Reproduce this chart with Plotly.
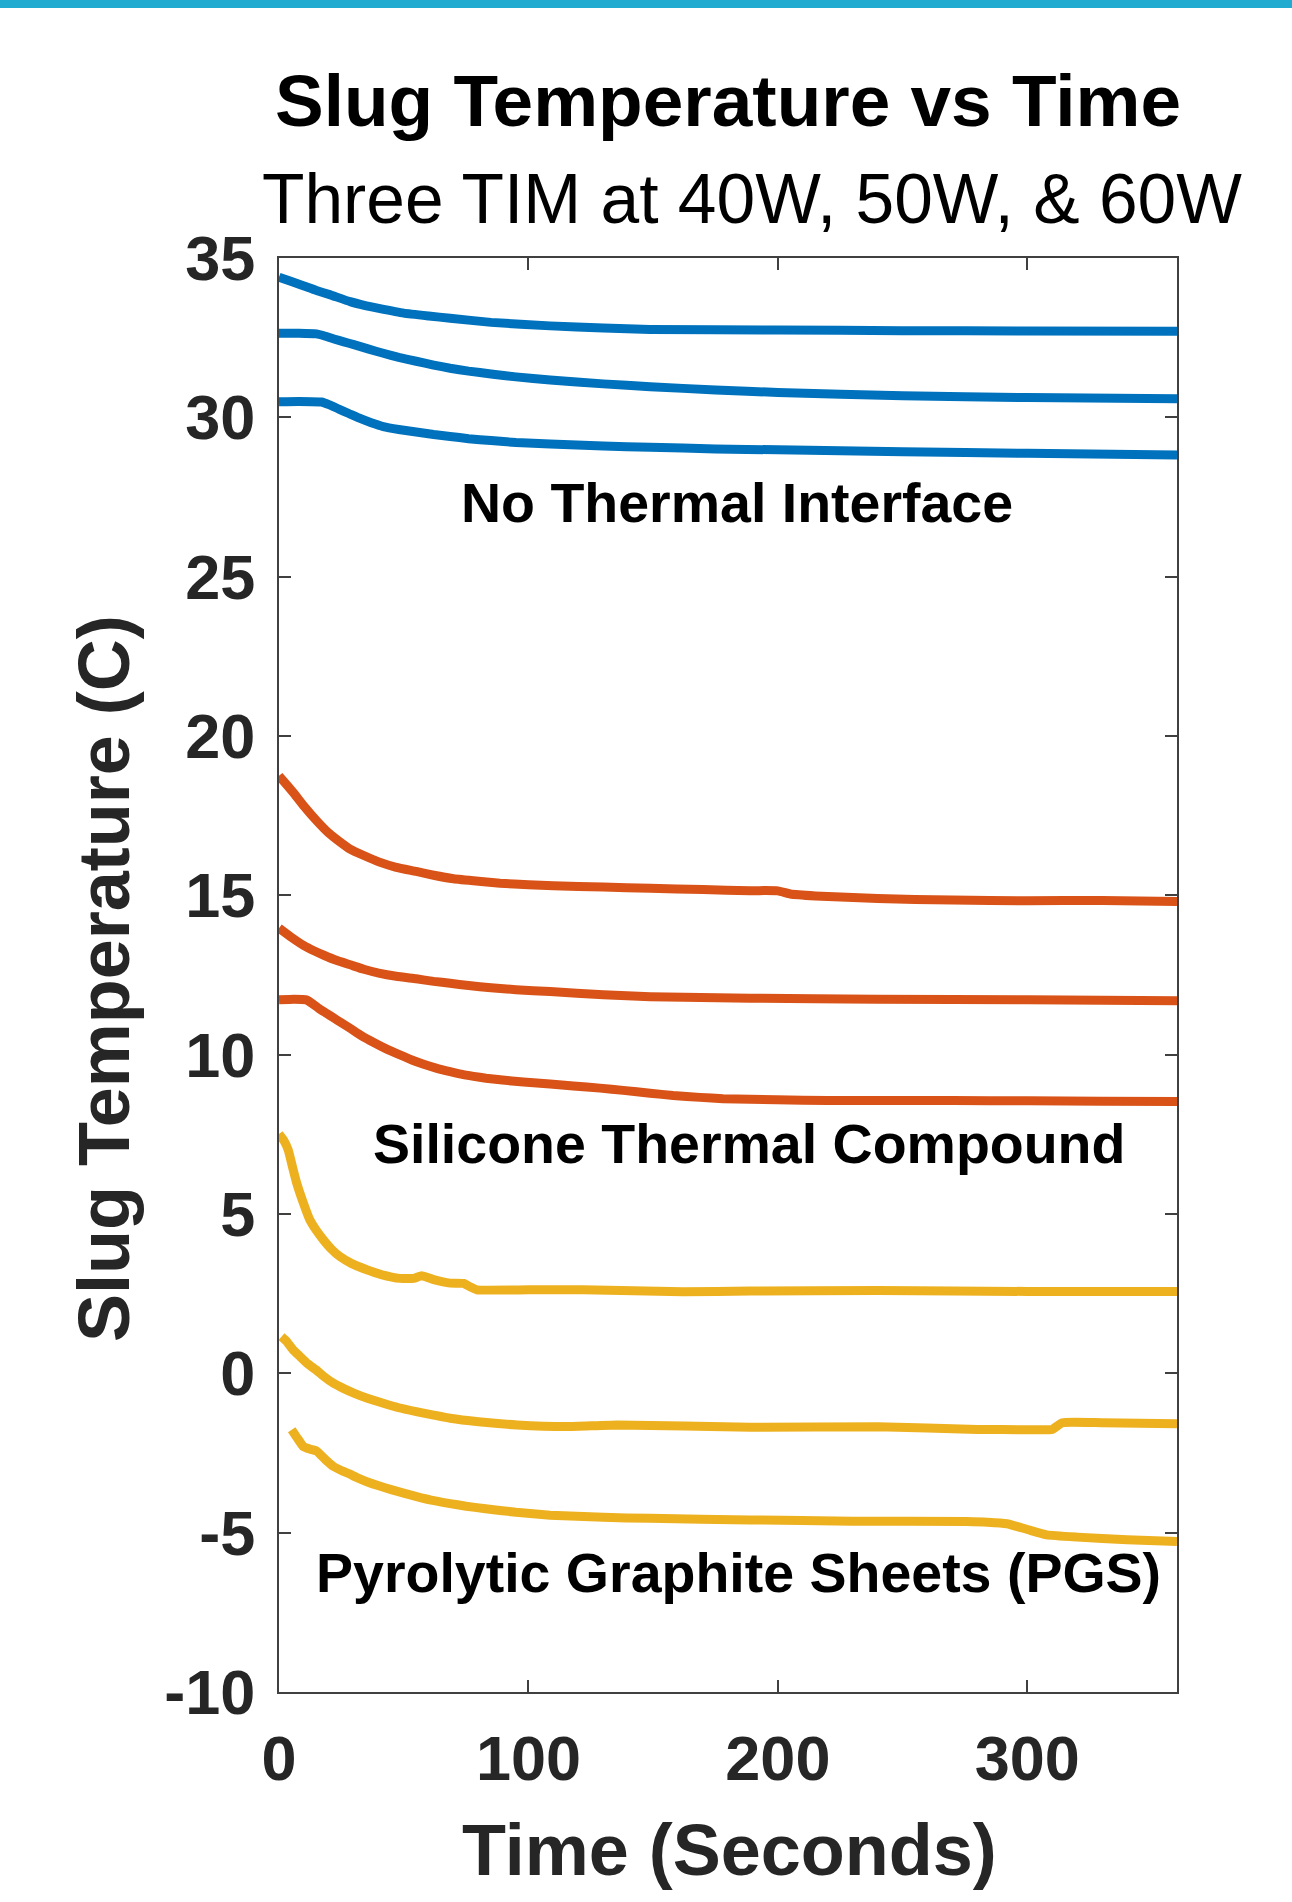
import plotly.graph_objects as go

# ---------------- data ----------------
# No Thermal Interface (blue)
nti_60_t = [0, 5, 10, 15, 20, 28.5, 35, 40, 50, 60, 68.6, 85, 108.7, 130, 148.8, 200, 250, 300, 360]
nti_60_y = [34.40, 34.26, 34.12, 33.98, 33.86, 33.63, 33.50, 33.42, 33.27, 33.18, 33.11, 32.98, 32.87, 32.80, 32.76, 32.74, 32.72, 32.71, 32.70]
nti_50_t = [0, 8, 15, 18, 22, 26, 30, 36, 41.8, 48, 55, 62, 68.6, 76, 85, 95, 108.7, 130, 148.8, 175, 200, 250, 300, 360]
nti_50_y = [32.64, 32.64, 32.62, 32.56, 32.46, 32.37, 32.28, 32.14, 32.01, 31.88, 31.76, 31.64, 31.54, 31.45, 31.36, 31.27, 31.17, 31.05, 30.96, 30.86, 30.78, 30.68, 30.62, 30.58]
nti_40_t = [0, 8, 17, 20, 24, 28, 32, 37, 41.8, 48, 55, 62, 68.6, 76, 85, 95, 108.7, 130, 148.8, 175, 200, 250, 300, 360]
nti_40_y = [30.49, 30.50, 30.48, 30.40, 30.26, 30.12, 29.98, 29.83, 29.71, 29.62, 29.54, 29.46, 29.40, 29.33, 29.27, 29.21, 29.16, 29.10, 29.06, 29.01, 28.98, 28.92, 28.87, 28.82]

# Silicone Thermal Compound (orange)
stc_60_t = [0, 3, 6, 10, 15, 20, 24, 28.5, 34, 40, 47, 55, 62, 70, 80, 88.6, 100, 110, 130, 148.8, 170, 188.9, 195, 200, 205, 215, 240, 270, 300, 330, 360]
stc_60_y = [18.75, 18.48, 18.20, 17.80, 17.35, 16.95, 16.70, 16.45, 16.25, 16.05, 15.88, 15.75, 15.63, 15.52, 15.44, 15.38, 15.33, 15.30, 15.26, 15.22, 15.18, 15.14, 15.15, 15.14, 15.04, 14.98, 14.90, 14.85, 14.83, 14.84, 14.81]
stc_50_t = [0, 5, 10, 14, 18, 23, 28.5, 34, 40, 47, 55, 62, 68.6, 76, 85, 95, 108.7, 130, 148.8, 188.9, 240, 300, 360]
stc_50_y = [13.97, 13.68, 13.42, 13.26, 13.12, 12.96, 12.82, 12.68, 12.56, 12.46, 12.38, 12.30, 12.24, 12.17, 12.10, 12.04, 11.98, 11.88, 11.82, 11.77, 11.74, 11.72, 11.69]
stc_40_t = [0, 6, 11, 13, 16, 19, 22, 25, 28.5, 33, 38, 43, 48.5, 53, 58, 63, 68.6, 73, 78, 83, 88.6, 98, 108.7, 118, 128.7, 138, 148.8, 158, 168.8, 178, 188.9, 210, 230, 270, 300, 330, 360]
stc_40_y = [11.72, 11.74, 11.72, 11.62, 11.45, 11.30, 11.15, 11.00, 10.83, 10.60, 10.38, 10.18, 9.99, 9.84, 9.70, 9.58, 9.47, 9.39, 9.32, 9.26, 9.21, 9.14, 9.08, 9.02, 8.95, 8.88, 8.79, 8.72, 8.66, 8.62, 8.60, 8.57, 8.56, 8.56, 8.55, 8.54, 8.53]

# Pyrolytic Graphite Sheets (yellow)
pgs_60_t = [0, 2, 3.7, 5.5, 7.1, 9.8, 12.4, 15, 17.8, 21, 24.5, 29, 35.2, 41, 48.5, 54, 57.2, 62, 68.6, 74, 77, 79.3, 100, 122, 162, 188.9, 240, 300, 360]
pgs_60_y = [7.51, 7.30, 7.01, 6.45, 5.97, 5.34, 4.81, 4.48, 4.19, 3.90, 3.66, 3.45, 3.25, 3.10, 2.98, 2.98, 3.06, 2.94, 2.83, 2.82, 2.70, 2.62, 2.62, 2.62, 2.56, 2.58, 2.60, 2.57, 2.57]
pgs_50_t = [1, 3.1, 5.5, 8.4, 11.5, 15, 18, 21.8, 26, 30, 36, 41.8, 48, 55, 62, 68.6, 80, 95.4, 115.5, 135.5, 188.9, 240, 280, 300, 310, 314, 330, 360]
pgs_50_y = [1.15, 1.00, 0.75, 0.53, 0.30, 0.10, -0.10, -0.31, -0.48, -0.62, -0.80, -0.94, -1.08, -1.20, -1.31, -1.41, -1.52, -1.62, -1.67, -1.62, -1.69, -1.68, -1.76, -1.77, -1.76, -1.55, -1.55, -1.58]
pgs_40_t = [5.1, 7.5, 9.8, 12.5, 15.1, 18.5, 21.8, 25, 28, 31.5, 35.2, 40, 45, 50, 55.2, 61, 68, 75, 82, 95, 108.7, 130, 148.8, 188.9, 230, 275.7, 284, 291.8, 300, 307.8, 320, 340, 360]
pgs_40_y = [-1.77, -2.05, -2.30, -2.38, -2.44, -2.70, -2.92, -3.05, -3.15, -3.28, -3.40, -3.53, -3.65, -3.76, -3.87, -3.98, -4.08, -4.17, -4.24, -4.36, -4.45, -4.52, -4.55, -4.60, -4.64, -4.65, -4.67, -4.72, -4.90, -5.07, -5.14, -5.22, -5.28]

group_labels = ["No Thermal Interface", "Silicone Thermal Compound", "Pyrolytic Graphite Sheets (PGS)"]
label_x = [183.8, 188.5, 184.4]
label_y = [27.31, 7.20, -6.27]

x_tickvals = [0, 100, 200, 300]
x_ticktext = ["0", "100", "200", "300"]
y_tickvals = [35, 30, 25, 20, 15, 10, 5, 0, -5, -10]
y_ticktext = ["35", "30", "25", "20", "15", "10", "5", "0", "-5", "-10"]

title_text = "Slug Temperature vs Time"
subtitle_text = "Three TIM at 40W, 50W, & 60W"
x_title = "Time (Seconds)"
y_title = "Slug Temperature (C)"

# ---------------- styling ----------------
BLUE = "#0072BD"
ORANGE = "#D95319"
YELLOW = "#EDB120"
FONT = "Liberation Sans, Arial, Helvetica, sans-serif"
LW = 9

series = [
    (nti_60_t, nti_60_y, BLUE), (nti_50_t, nti_50_y, BLUE), (nti_40_t, nti_40_y, BLUE),
    (stc_60_t, stc_60_y, ORANGE), (stc_50_t, stc_50_y, ORANGE), (stc_40_t, stc_40_y, ORANGE),
    (pgs_60_t, pgs_60_y, YELLOW), (pgs_50_t, pgs_50_y, YELLOW), (pgs_40_t, pgs_40_y, YELLOW),
]

fig = go.Figure()
for t, y, c in series:
    fig.add_trace(go.Scatter(x=t, y=y, mode="lines", line=dict(color=c, width=LW, shape="spline", smoothing=0.4),
                             showlegend=False, hoverinfo="skip"))

W, H = 1292, 1902
ML, MR, MT, MB = 279, 115, 258, 210
pw, ph = W - ML - MR, H - MT - MB

def px_x(px):
    return (px - ML) / pw

def px_y(py):
    return (H - MB - py) / ph

annotations = []
for txt, x, y in zip(group_labels, label_x, label_y):
    annotations.append(dict(x=x, y=y, xref="x", yref="y", text="<b>%s</b>" % txt, showarrow=False,
                            font=dict(family=FONT, size=55.5, color="#000000"),
                            xanchor="center", yanchor="middle"))
annotations += [
    dict(x=px_x(728), y=px_y(101), xref="paper", yref="paper", text="<b>%s</b>" % title_text,
         showarrow=False, font=dict(family=FONT, size=73, color="#000000"),
         xanchor="center", yanchor="middle"),
    dict(x=px_x(752), y=px_y(199), xref="paper", yref="paper", text=subtitle_text,
         showarrow=False, font=dict(family=FONT, size=69.5, color="#000000"),
         xanchor="center", yanchor="middle"),
    dict(x=px_x(729), y=px_y(1850), xref="paper", yref="paper", text="<b>%s</b>" % x_title,
         showarrow=False, font=dict(family=FONT, size=72, color="#262626"),
         xanchor="center", yanchor="middle"),
    dict(x=px_x(104), y=px_y(979), xref="paper", yref="paper", text="<b>%s</b>" % y_title,
         showarrow=False, textangle=-90, font=dict(family=FONT, size=72, color="#262626"),
         xanchor="center", yanchor="middle"),
]

axis_common = dict(showgrid=False, zeroline=False, showline=True, linecolor="#404040", linewidth=2,
                   mirror="ticks", ticks="inside", ticklen=12, tickwidth=2, tickcolor="#404040",
                   tickfont=dict(family=FONT, size=63, color="#262626"), tickmode="array")

fig.update_layout(
    width=W, height=H, autosize=False,
    margin=dict(l=ML, r=MR, t=MT, b=MB, pad=0),
    paper_bgcolor="white", plot_bgcolor="white",
    xaxis=dict(range=[0, 360], tickvals=x_tickvals, ticktext=["<b>%s</b>" % s for s in x_ticktext],
               ticklabelstandoff=10, **axis_common),
    yaxis=dict(range=[-10, 35], tickvals=y_tickvals, ticktext=["<b>%s</b>" % s for s in y_ticktext],
               ticklabelstandoff=9, **axis_common),
    annotations=annotations,
    shapes=[dict(type="rect", xref="paper", yref="paper", x0=px_x(0), x1=px_x(W),
                 y0=px_y(8), y1=px_y(0), fillcolor="#22ABD0", line=dict(width=0), layer="above")],
)

fig.write_html("out.html", config={"displayModeBar": False},
               post_script="document.body.style.margin='0px';document.body.style.padding='0px';")
